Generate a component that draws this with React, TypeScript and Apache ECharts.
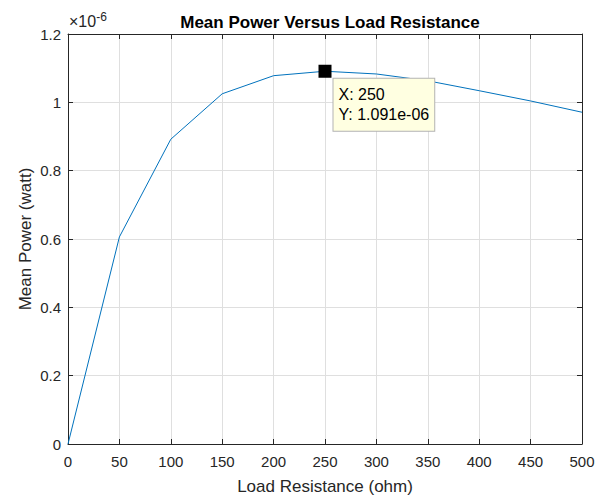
import React, { useEffect, useRef } from "react";
import * as echarts from "echarts";

const loadResistance = [0, 50, 100, 150, 200, 250, 300, 350, 400, 450, 500];
const meanPowerWatt = [
  0, 0.606e-6, 0.892e-6, 1.025e-6, 1.078e-6, 1.091e-6, 1.083e-6, 1.063e-6, 1.034e-6, 1.004e-6, 0.971e-6,
];
const tipIndex = 5;
const xTicks = { min: 0, max: 500, interval: 50 };
const yTicks = { min: 0, max: 1.2, interval: 0.2 };
const scale = 1e6;

const FONT = "'Liberation Sans', Arial, Helvetica, sans-serif";
const AX = "#262626";
const GRID = "#dfdfdf";

function fmtExp(v: number) {
  const [m, e] = v.toExponential(3).split("e");
  const sign = e[0] === "-" ? "-" : "+";
  const digits = e.replace(/[+-]/, "").padStart(2, "0");
  return `${m}e${sign}${digits}`;
}

export default function App() {
  const ref = useRef<HTMLDivElement>(null);
  useEffect(() => {
    if (!ref.current) return;
    const chart = echarts.init(ref.current, null, { renderer: "svg" });
    const data = loadResistance.map((x, i) => [x, meanPowerWatt[i] * scale]);
    const tipX = loadResistance[tipIndex];
    const tipY = meanPowerWatt[tipIndex];
    const baseX = {
      type: "value" as const,
      ...xTicks,
      axisLine: { show: true, onZero: false, lineStyle: { color: AX, width: 1 } },
      axisTick: { show: true, inside: true, length: 5, lineStyle: { color: AX } },
    };
    const baseY = {
      type: "value" as const,
      ...yTicks,
      axisLine: { show: true, onZero: false, lineStyle: { color: AX, width: 1 } },
      axisTick: { show: true, inside: true, length: 5, lineStyle: { color: AX } },
    };
    chart.setOption({
      animation: false,
      backgroundColor: "#ffffff",
      textStyle: { fontFamily: FONT },
      title: {
        text: "Mean Power Versus Load Resistance",
        left: 325,
        textAlign: "center",
        top: 9,
        textStyle: { fontFamily: FONT, fontSize: 17, fontWeight: "bold", color: "#000" },
      },
      grid: { left: 68, right: 21, top: 34, bottom: 51, containLabel: false, outerBoundsMode: "none" },
      xAxis: [
        {
          ...baseX,
          position: "bottom",
          name: "Load Resistance (ohm)",
          nameLocation: "middle",
          nameGap: 34,
          nameMoveOverlap: false,
          nameTextStyle: { fontFamily: FONT, fontSize: 17, color: AX },
          axisLabel: { fontFamily: FONT, fontSize: 15, color: AX, margin: 10 },
          splitLine: { show: true, lineStyle: { color: GRID, width: 1 } },
        },
        {
          ...baseX,
          position: "top",
          axisLabel: { show: false },
          splitLine: { show: false },
        },
      ],
      yAxis: [
        {
          ...baseY,
          position: "left",
          name: "Mean Power (watt)",
          nameLocation: "middle",
          nameGap: 34,
          nameMoveOverlap: false,
          nameTextStyle: { fontFamily: FONT, fontSize: 17, color: AX },
          axisLabel: {
            fontFamily: FONT,
            fontSize: 15,
            color: AX,
            margin: 7,
            formatter: (v: number) => String(Math.round(v * 10) / 10),
          },
          splitLine: { show: true, lineStyle: { color: GRID, width: 1 } },
        },
        {
          ...baseY,
          position: "right",
          axisLabel: { show: false },
          splitLine: { show: false },
        },
      ],
      graphic: [
        {
          type: "text",
          left: 69,
          top: 11,
          style: {
            text: "×10{sup|-6}",
            fontFamily: FONT,
            fontSize: 16,
            fill: AX,
            rich: { sup: { fontSize: 12, fill: AX, verticalAlign: "top", padding: [0, 0, 9, 0] } },
          },
        },
      ],
      series: [
        {
          type: "line",
          data,
          showSymbol: false,
          lineStyle: { color: "#0072BD", width: 1 },
          itemStyle: { color: "#0072BD" },
          markPoint: {
            symbol: "rect",
            symbolSize: 11,
            itemStyle: { color: "#000", borderColor: "#000" },
            data: [
              {
                coord: [tipX, tipY * scale],
                label: {
                  show: true,
                  position: [15, 14],
                  formatter: `X: ${tipX}\nY: ${fmtExp(tipY)}`,
                  fontFamily: FONT,
                  fontSize: 16,
                  lineHeight: 20,
                  color: "#000",
                  align: "left",
                  verticalAlign: "top",
                  backgroundColor: "#ffffe1",
                  borderColor: "#b3b3b3",
                  borderWidth: 1,
                  padding: [6, 5, 6, 5],
                },
              },
            ],
          },
        },
      ],
    });
    return () => chart.dispose();
  }, []);
  return <div ref={ref} style={{ position: "fixed", left: 0, top: 0, width: 603, height: 495 }} />;
}
